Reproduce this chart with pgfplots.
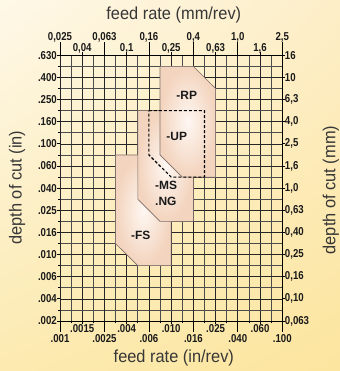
\documentclass[border=0pt]{standalone}
\usepackage{pgfplots}
\pgfplotsset{compat=1.18}
\usetikzlibrary{shadings}
\usepackage{fontspec}
\setmainfont{Liberation Sans}
\newfontfamily\tickf{Liberation Sans}[FakeStretch=0.84]
\newfontfamily\titlef{Liberation Sans}[FakeStretch=0.94]
\definecolor{bgUL}{RGB}{254,248,232}
\definecolor{bgUR}{RGB}{253,238,200}
\definecolor{bgLL}{RGB}{252,234,176}
\definecolor{bgLR}{RGB}{252,229,158}
\definecolor{peach}{RGB}{243,212,190}
\definecolor{peachlight}{RGB}{254,247,242}
\definecolor{edge}{RGB}{125,110,105}
\definecolor{txt}{RGB}{25,25,25}
\definecolor{ttl}{RGB}{55,55,55}
\tikzset{tl/.style={font=\tickf\bfseries\fontsize{11.5}{11.5}\selectfont, text=txt, inner sep=0pt},
         ttlst/.style={font=\titlef\fontsize{17.5}{17.5}\selectfont, text=ttl, inner sep=0pt},
         shp/.style={font=\bfseries\fontsize{12}{12}\selectfont, text=txt, inner sep=0pt}}
\begin{document}
\begin{tikzpicture}
\shade[upper left=bgUL, upper right=bgUR, lower left=bgLL, lower right=bgLR] (0bp,0bp) rectangle (340bp,371bp);
\useasboundingbox (0bp,0bp) rectangle (340bp,371bp);
\begin{axis}[
  at={(60bp,50bp)}, anchor=south west,
  scale only axis, width=222.3bp, height=265.7bp,
  xmode=log, ymode=log,
  xmin=0.001, xmax=0.1, ymin=0.0025119, ymax=0.63096,
  axis line style={black, line width=0.8bp},
  tick align=outside, major tick length=3bp, minor tick length=2bp,
  tick style={black, line width=0.8bp},
  ytick={0.0025119,0.0039811,0.0063096,0.01,0.015849,0.025119,0.039811,0.063096,0.1,0.15849,0.25119,0.39811,0.63096},
  grid=both,
  major grid style={black!85, line width=0.7bp},
  minor grid style={black!70, line width=0.7bp},
  xtick={0.0015849,0.0039811,0.01,0.025119,0.063096},
  xticklabels={.0015,.004,.010,.025,.060},
  extra x ticks={0.001,0.0025119,0.0063096,0.015849,0.039811,0.1},
  extra x tick labels={.001,.0025,.006,.016,.040,.100},
  extra x tick style={major tick length=11bp, xticklabel style={yshift=-1.7bp}},
  minor xtick={0.0012589,0.0019953,0.0031623,0.0050119,0.0079433,0.012589,0.019953,0.031623,0.050119,0.079433},
  yticklabels={.002,.004,.006,.010,.016,.025,.040,.060,.100,.160,.250,.400,.630},
  minor ytick={0.0031623,0.0050119,0.0079433,0.012589,0.019953,0.031623,0.050119,0.079433,0.12589,0.19953,0.31623,0.50119},
  xtick pos=left, ytick pos=left,
  xticklabel style={tl, anchor=base, yshift=-9bp},
  yticklabel style={tl, anchor=east, xshift=0bp},
  xlabel={feed rate (in/rev)}, ylabel={depth of cut (in)},
  xlabel style={ttlst, at={(axis description cs:0.512,-0.139)}, anchor=center},
  ylabel style={ttlst, at={(axis description cs:-0.193,0.502)}, anchor=center},
]
% -FS
\addplot[draw=edge, line width=0.6bp, inner color=peachlight, outer color=peach]
  coordinates {(0.003162,0.07943) (0.01,0.07943) (0.01,0.007943) (0.005012,0.007943) (0.003162,0.012589)} -- cycle;
% -MS / .NG
\addplot[draw=edge, line width=0.6bp, inner color=peachlight, outer color=peach]
  coordinates {(0.005012,0.19953) (0.015849,0.19953) (0.015849,0.019953) (0.007943,0.019953) (0.005012,0.031623)} -- cycle;
% -RP
\addplot[draw=edge, line width=0.6bp, inner color=peachlight, outer color=peach]
  coordinates {(0.007943,0.50119) (0.015849,0.50119) (0.025119,0.31623) (0.025119,0.050119) (0.012589,0.050119) (0.007943,0.079433)} -- cycle;
% -UP (dashed)
\addplot[draw=black, line width=1.1bp, dash pattern=on 3bp off 2bp]
  coordinates {(0.00631,0.19953) (0.019953,0.19953) (0.019953,0.050119) (0.01,0.050119) (0.00631,0.079433)} -- cycle;
\node[shp] at (axis cs:0.0138,0.2754) {-RP};
\node[shp] at (axis cs:0.01122,0.1161) {-UP};
\node[shp, anchor=west] at (axis cs:0.00716,0.0419) {-MS};
\node[shp, anchor=west] at (axis cs:0.00716,0.0305) {.NG};
\node[shp] at (axis cs:0.00532,0.01479) {-FS};
\end{axis}
\begin{axis}[
  at={(60bp,50bp)}, anchor=south west,
  scale only axis, width=222.3bp, height=265.7bp,
  xmode=log, ymode=log,
  xmin=0.001, xmax=0.1, ymin=0.0025119, ymax=0.63096,
  axis line style={black, line width=0.8bp},
  tick align=outside, major tick length=3bp, minor tick length=2bp,
  tick style={black, line width=0.8bp},
  ytick={0.0025119,0.0039811,0.0063096,0.01,0.015849,0.025119,0.039811,0.063096,0.1,0.15849,0.25119,0.39811,0.63096},
  axis x line*=top, axis y line*=right,
  xtick={0.0015849,0.0039811,0.01,0.025119,0.063096},
  xticklabels={{0,04},{0,1},{0,25},{0,63},{1,6}},
  extra x ticks={0.001,0.0025119,0.0063096,0.015849,0.039811,0.1},
  extra x tick labels={{0,025},{0,063},{0,16},{0,4},{1,0},{2,5}},
  extra x tick style={major tick length=13bp, xticklabel style={yshift=1bp}},
  yticklabels={{0,063},{0,10},{0,16},{0,25},{0,40},{0,63},{1,0},{1,6},{2,5},{4,0},{6,3},{10},{16}},
  xticklabel style={tl, anchor=base, yshift=1bp},
  yticklabel style={tl, anchor=west, xshift=-0.5bp},
  xlabel={feed rate (mm/rev)}, ylabel={depth of cut (mm)},
  xlabel style={ttlst, at={(axis description cs:0.512,1.152)}, anchor=center},
  ylabel style={ttlst, at={(axis description cs:1.219,0.493)}, anchor=center},
]
\end{axis}
\end{tikzpicture}
\end{document}
